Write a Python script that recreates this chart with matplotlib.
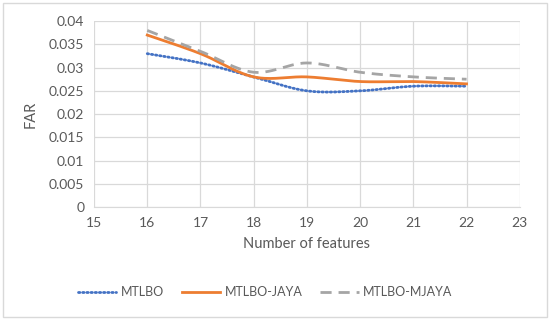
import numpy as np
import matplotlib.pyplot as plt
from matplotlib.patches import Rectangle

features = [16, 17, 18, 19, 20, 21, 22]
mtlbo = [0.033, 0.031, 0.028, 0.025, 0.025, 0.026, 0.026]
mtlbo_jaya = [0.037, 0.033, 0.028, 0.028, 0.027, 0.027, 0.0265]
mtlbo_mjaya = [0.038, 0.0335, 0.029, 0.031, 0.029, 0.028, 0.0275]


def smooth(xs, ys, n=30):
    # Excel-style smoothed line (Catmull-Rom through the points)
    xs = np.asarray(xs, float)
    ys = np.asarray(ys, float)
    px = np.concatenate([[xs[0]], xs, [xs[-1]]])
    py = np.concatenate([[ys[0]], ys, [ys[-1]]])
    ox, oy = [], []
    t = np.linspace(0, 1, n)
    for i in range(1, len(px) - 2):
        p0, p1, p2, p3 = [np.array([px[j], py[j]]) for j in (i - 1, i, i + 1, i + 2)]
        c1 = p1 + (p2 - p0) / 6
        c2 = p2 - (p3 - p1) / 6
        pts = ((1 - t) ** 3)[:, None] * p1 + (3 * (1 - t) ** 2 * t)[:, None] * c1 \
            + (3 * (1 - t) * t ** 2)[:, None] * c2 + (t ** 3)[:, None] * p2
        ox.extend(pts[:, 0])
        oy.extend(pts[:, 1])
    return ox, oy


plt.rcParams['font.family'] = ['Lato', 'DejaVu Sans']
txt = '#595959'

fig = plt.figure(figsize=(5.5, 3.2), dpi=100)
ax = fig.add_axes([0.171, 0.353, 0.774, 0.581])

x, y = smooth(features, mtlbo)
ax.plot(x, y, color='#4472C4', lw=2, ls=(0, (0.5, 1.0)), dash_capstyle='round', label='MTLBO')
x, y = smooth(features, mtlbo_jaya)
ax.plot(x, y, color='#ED7D31', lw=2, label='MTLBO-JAYA')
x, y = smooth(features, mtlbo_mjaya)
ax.plot(x, y, color='#A5A5A5', lw=2, ls=(0, (4, 2.5)), label='MTLBO-MJAYA')

ax.set_xlim(15, 23)
ax.set_ylim(0, 0.04)
ax.set_xticks(range(15, 24))
ax.set_yticks(np.arange(0, 0.0401, 0.005))
ax.set_yticklabels(['0', '0.005', '0.01', '0.015', '0.02', '0.025', '0.03', '0.035', '0.04'])
ax.grid(True, color='#D9D9D9', lw=0.9)
ax.set_axisbelow(True)
for s in ['top', 'right', 'left']:
    ax.spines[s].set_visible(False)
ax.spines['bottom'].set_color('#D9D9D9')
ax.tick_params(length=0, colors=txt, labelsize=10, pad=7)

ax.set_xlabel('Number of features', color=txt, fontsize=10.5, labelpad=6)
ax.set_ylabel('FAR', color=txt, fontsize=10.5, labelpad=8)

fig.legend(loc='center', bbox_to_anchor=(0.482, 0.087), ncol=3, frameon=False,
           fontsize=9, labelcolor=txt, handlelength=3.1, handletextpad=0.35,
           columnspacing=1.4)

fig.patches.append(Rectangle((0.005, 0.01), 0.99, 0.98, transform=fig.transFigure,
                             fill=False, edgecolor='#D9D9D9', lw=1))

fig.savefig('out.png', dpi=100)
